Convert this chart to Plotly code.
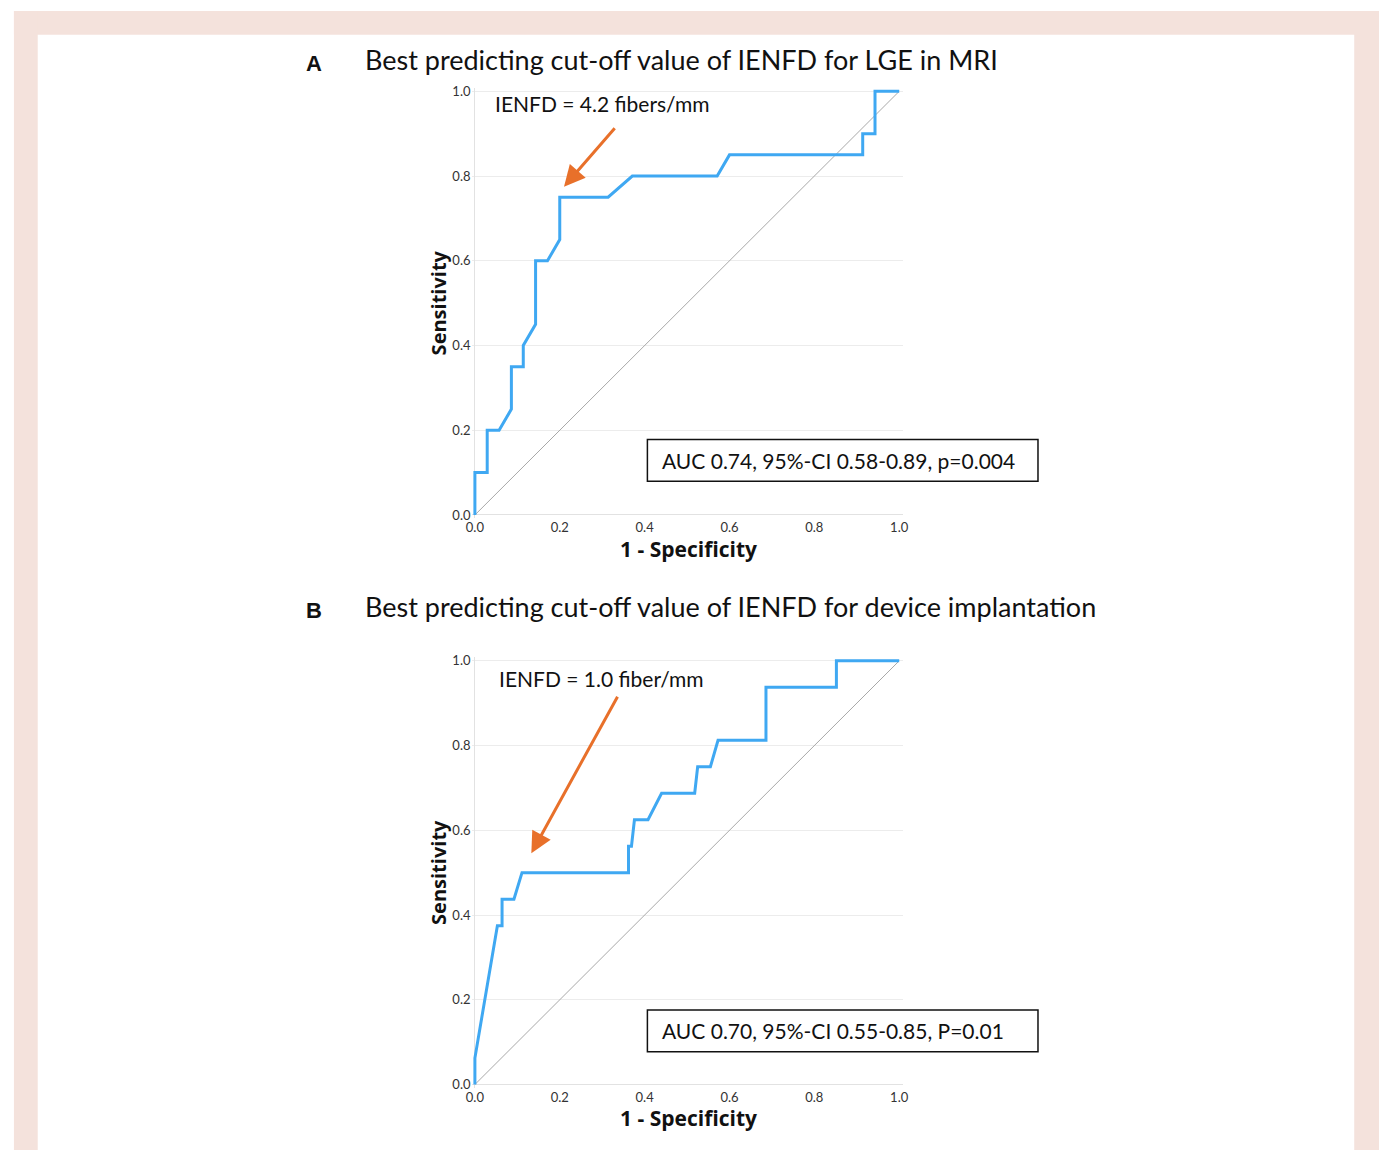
import plotly.graph_objects as go

# ---- Data ----
# Panel A: ROC for LGE in MRI
fpr_a = [0.0, 0.0, 0.029, 0.029, 0.057, 0.086, 0.086, 0.114, 0.114, 0.143, 0.143, 0.171,
         0.2, 0.2, 0.314, 0.371, 0.571, 0.6, 0.914, 0.914, 0.943, 0.943, 1.0]
tpr_a = [0.0, 0.1, 0.1, 0.2, 0.2, 0.25, 0.35, 0.35, 0.4, 0.45, 0.6, 0.6,
         0.65, 0.75, 0.75, 0.8, 0.8, 0.85, 0.85, 0.9, 0.9, 1.0, 1.0]

# Panel B: ROC for device implantation
fpr_b = [0.0, 0.0, 0.053, 0.064, 0.064, 0.092, 0.111, 0.362, 0.362, 0.369, 0.376, 0.408,
         0.44, 0.518, 0.525, 0.555, 0.573, 0.686, 0.686, 0.852, 0.852, 1.0]
tpr_b = [0.0, 0.0625, 0.375, 0.375, 0.4375, 0.4375, 0.5, 0.5, 0.5625, 0.5625, 0.625, 0.625,
         0.6875, 0.6875, 0.75, 0.75, 0.8125, 0.8125, 0.9375, 0.9375, 1.0, 1.0]

ref_line = [0.0, 1.0]
tick_vals = [0.0, 0.2, 0.4, 0.6, 0.8, 1.0]
tick_text = ["0.0", "0.2", "0.4", "0.6", "0.8", "1.0"]

titles = ["Best predicting cut-off value of IENFD for LGE in MRI",
          "Best predicting cut-off value of IENFD for device implantation"]
panel_letters = ["A", "B"]
cutoff_labels = ["IENFD = 4.2 fibers/mm", "IENFD = 1.0 fiber/mm"]
cutoff_points = [(0.210, 0.775), (0.133, 0.546)]
auc_labels = ["AUC 0.74, 95%-CI 0.58-0.89, p=0.004", "AUC 0.70, 95%-CI 0.55-0.85, P=0.01"]

# ---- Layout geometry (pixels) ----
W, H = 1386, 1154
FONT = "Lato, 'Open Sans', sans-serif"
BOLD_FONT = "'Open Sans', Lato, sans-serif"
BLUE = "#3fa8f2"
ORANGE = "#e8702a"
PINK = "#f4e2dc"

# plot areas: x0 px, x1 px, y(top=1.0) px, y(bottom=0.0) px
x_left, x_right = 473, 901
panels = [(87, 514), (661, 1088)]

def px(x):
    return x / W

def py(y):
    return 1 - y / H

fig = go.Figure()

curves = [(fpr_a, tpr_a), (fpr_b, tpr_b)]
for i, (fx, ty) in enumerate(curves):
    xa = "x" if i == 0 else "x2"
    ya = "y" if i == 0 else "y2"
    fig.add_trace(go.Scatter(x=ref_line, y=ref_line, mode="lines",
                             line=dict(color="#a8a8a8", width=1),
                             xaxis=xa, yaxis=ya, showlegend=False, hoverinfo="skip"))
    fig.add_trace(go.Scatter(x=fx, y=ty, mode="lines",
                             line=dict(color=BLUE, width=3),
                             xaxis=xa, yaxis=ya, showlegend=False))

pad = 0.008
axis_common = dict(range=[-pad, 1 + pad], tickvals=tick_vals, ticktext=tick_text,
                   tickfont=dict(family=FONT, size=13, color="#333333"),
                   showline=False, ticks="", fixedrange=True)

span_x = (x_right - x_left)
dx = span_x * pad
for i, (ytop, ybot) in enumerate(panels):
    span_y = ybot - ytop
    dy = span_y * pad
    xkey = "xaxis" if i == 0 else "xaxis2"
    ykey = "yaxis" if i == 0 else "yaxis2"
    ya = "y" if i == 0 else "y2"
    xa = "x" if i == 0 else "x2"
    fig.layout[xkey] = dict(axis_common, domain=[px(x_left - dx), px(x_right + dx)],
                            anchor=ya, showgrid=False, zeroline=True,
                            zerolinecolor="#e2e2e2", zerolinewidth=1)
    fig.layout[ykey] = dict(axis_common, domain=[py(ybot + dy), py(ytop - dy)],
                            anchor=xa, showgrid=True, gridcolor="#ececec", gridwidth=1,
                            zeroline=True, zerolinecolor="#e2e2e2", zerolinewidth=1)

annotations = []
shapes = []

# page frame (pink bands)
shapes += [
    dict(type="rect", xref="paper", yref="paper", x0=px(8), x1=px(1385), y0=py(30), y1=py(6),
         fillcolor=PINK, line=dict(width=0), layer="below"),
    dict(type="rect", xref="paper", yref="paper", x0=px(8), x1=px(32), y0=0, y1=py(6),
         fillcolor=PINK, line=dict(width=0), layer="below"),
    dict(type="rect", xref="paper", yref="paper", x0=px(1360), x1=px(1385), y0=0, y1=py(6),
         fillcolor=PINK, line=dict(width=0), layer="below"),
]

title_y = [55, 606]
for i, (ytop, ybot) in enumerate(panels):
    xa = "x" if i == 0 else "x2"
    ya = "y" if i == 0 else "y2"
    # panel letter and title
    annotations.append(dict(xref="paper", yref="paper", x=px(311), y=py(title_y[i] + 4),
                            text="<b>" + panel_letters[i] + "</b>", showarrow=False,
                            xanchor="center", yanchor="middle",
                            font=dict(family="'Liberation Sans', Arial, sans-serif", size=22, color="#111")))
    annotations.append(dict(xref="paper", yref="paper", x=px(360), y=py(title_y[i]),
                            text=titles[i], showarrow=False, xanchor="left", yanchor="middle",
                            font=dict(family=FONT, size=27, color="#111")))
    # axis titles
    mid_y = (ytop + ybot) / 2
    annotations.append(dict(xref="paper", yref="paper", x=px(436), y=py(mid_y),
                            text="<b>Sensitivity</b>", textangle=-90, showarrow=False,
                            xanchor="center", yanchor="middle",
                            font=dict(family=BOLD_FONT, size=20, color="#111")))
    annotations.append(dict(xref="paper", yref="paper", x=px(688), y=py(ybot + 34),
                            text="<b>1 - Specificity</b>", showarrow=False,
                            xanchor="center", yanchor="middle",
                            font=dict(family=BOLD_FONT, size=21, color="#111")))
    # cut-off label and arrow
    lbl_y = [99, 679][i]
    lbl_x = [491, 495][i]
    annotations.append(dict(xref="paper", yref="paper", x=px(lbl_x), y=py(lbl_y),
                            text=cutoff_labels[i], showarrow=False, xanchor="left", yanchor="middle",
                            font=dict(family=FONT, size=21, color="#111")))
    hx, hy = cutoff_points[i]
    tail = [(52, -60), (87, -158)][i]
    annotations.append(dict(xref=xa, yref=ya, x=hx, y=hy, ax=tail[0], ay=tail[1],
                            axref="pixel", ayref="pixel", text="", showarrow=True,
                            arrowhead=2, arrowsize=1.4, arrowwidth=3, arrowcolor=ORANGE))
    # AUC box
    by0, by1 = [(438, 480), (1013, 1055)][i]
    shapes.append(dict(type="rect", xref="paper", yref="paper", x0=px(647), x1=px(1041),
                       y0=py(by1), y1=py(by0), fillcolor="white",
                       line=dict(color="#111", width=1.5)))
    annotations.append(dict(xref="paper", yref="paper", x=px(660), y=py((by0 + by1) / 2),
                            text=auc_labels[i], showarrow=False, xanchor="left", yanchor="middle",
                            font=dict(family=FONT, size=21, color="#111")))

fig.update_layout(width=W, height=H, margin=dict(l=0, r=0, t=0, b=0),
                  paper_bgcolor="white", plot_bgcolor="white",
                  annotations=annotations, shapes=shapes, showlegend=False)

fig.write_html("out.html", config={"displayModeBar": False},
               post_script="document.body.style.margin='0';document.body.style.overflow='hidden';")
